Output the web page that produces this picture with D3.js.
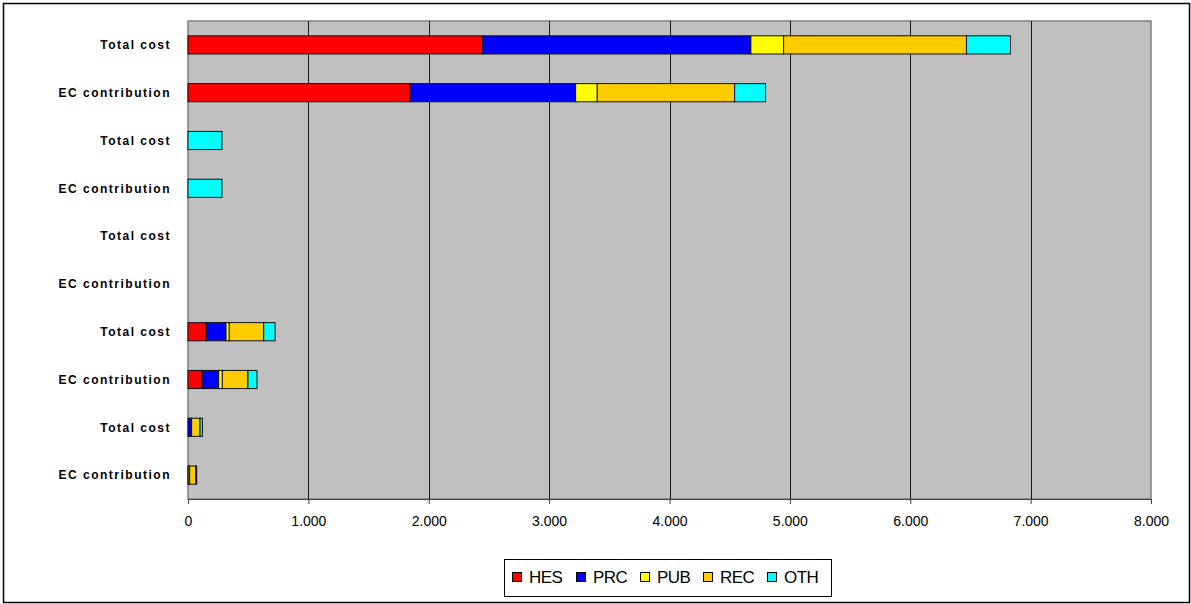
<!DOCTYPE html>
<html>
<head>
<meta charset="utf-8">
<script src="https://cdn.jsdelivr.net/npm/d3@7"></script>
<style>
  body { margin: 0; background: #fff; }
  svg { display: block; font-family: "Liberation Sans", Arial, sans-serif; }
</style>
</head>
<body>
<svg id="svg" width="1191" height="604"></svg>
<script>
// categories, top to bottom
var categories = ["Total cost", "EC contribution", "Total cost", "EC contribution", "Total cost",
                  "EC contribution", "Total cost", "EC contribution", "Total cost", "EC contribution"];

// series (stack order left to right)
var seriesNames = ["HES", "PRC", "PUB", "REC", "OTH"];
var hes = [2448, 1846, 0, 0, 0, 0, 152, 119, 0, 0];
var prc = [2228, 1374, 0, 0, 0, 0, 164, 136, 28, 2];
var pub = [272, 180, 0, 0, 0, 0, 27, 30, 2, 12];
var rec = [1519, 1141, 0, 0, 0, 0, 286, 213, 70, 50];
var oth = [366, 257, 282, 282, 0, 0, 94, 75, 20, 8];

var xTicks = [0, 1000, 2000, 3000, 4000, 5000, 6000, 7000, 8000];

var colors = ["#FF0000", "#0000FF", "#FFFF00", "#FFCC00", "#00FFFF"];

var svg = d3.select("#svg");

// outer chart border
svg.append("rect")
  .attr("x", 3.5).attr("y", 3.5)
  .attr("width", 1186).attr("height", 599)
  .attr("fill", "#fff").attr("stroke", "#000").attr("stroke-width", 1.5);

var plot = { left: 188, right: 1151, top: 21, bottom: 499 };

var x = d3.scaleLinear().domain([0, 8000]).range([plot.left, plot.right]);
var y = d3.scaleBand()
  .domain(d3.range(categories.length))
  .range([plot.top, plot.bottom])
  .paddingInner(0.62).paddingOuter(0.31);

// plot background
svg.append("rect")
  .attr("x", plot.left).attr("y", plot.top)
  .attr("width", plot.right - plot.left).attr("height", plot.bottom - plot.top)
  .attr("fill", "#C0C0C0").attr("stroke", "#808080").attr("stroke-width", 1.5);

// gridlines
svg.append("g").selectAll("line")
  .data(xTicks.slice(1, -1))
  .enter().append("line")
  .attr("x1", function(d) { return Math.round(x(d)) + 0.5; })
  .attr("x2", function(d) { return Math.round(x(d)) + 0.5; })
  .attr("y1", plot.top).attr("y2", plot.bottom)
  .attr("stroke", "#1a1a1a").attr("stroke-width", 1);

// stacked data
var rows = categories.map(function(c, i) {
  return { HES: hes[i], PRC: prc[i], PUB: pub[i], REC: rec[i], OTH: oth[i], idx: i };
});
var stacked = d3.stack().keys(seriesNames)(rows);

var segs = [];
stacked.forEach(function(layer, k) {
  layer.forEach(function(d, i) {
    if (d[1] - d[0] > 0) segs.push({ x0: d[0], x1: d[1], i: i, color: colors[k] });
  });
});

svg.append("g").selectAll("rect")
  .data(segs)
  .enter().append("rect")
  .attr("x", function(d) { return x(d.x0); })
  .attr("width", function(d) { return x(d.x1) - x(d.x0); })
  .attr("y", function(d) { return y(d.i); })
  .attr("height", y.bandwidth())
  .attr("fill", function(d) { return d.color; })
  .attr("stroke", "#111").attr("stroke-width", 1);

// x axis
var fmt = d3.formatLocale({ decimal: ",", thousands: ".", grouping: [3], currency: ["", ""] }).format(",d");
var xAxis = svg.append("g")
  .attr("transform", "translate(0," + plot.bottom + ")")
  .call(d3.axisBottom(x).tickValues(xTicks).tickFormat(fmt).tickSize(5).tickSizeOuter(0).tickPadding(12));
xAxis.select(".domain").attr("stroke", "#444");
xAxis.selectAll(".tick line").attr("stroke", "#444");
xAxis.selectAll("text")
  .attr("font-family", "'Liberation Sans', Arial, sans-serif")
  .attr("font-size", 14).attr("fill", "#000");

// y labels
svg.append("g").selectAll("text")
  .data(categories)
  .enter().append("text")
  .attr("x", 171)
  .attr("y", function(d, i) { return y(i) + y.bandwidth() / 2; })
  .attr("dy", "0.36em")
  .attr("text-anchor", "end")
  .attr("font-size", 12).attr("font-weight", "bold")
  .attr("letter-spacing", "1.5px")
  .attr("fill", "#000")
  .text(function(d) { return d; });

// legend
var legend = svg.append("g");
legend.append("rect")
  .attr("x", 504.5).attr("y", 559.5).attr("width", 327).attr("height", 37)
  .attr("fill", "#fff").attr("stroke", "#000").attr("stroke-width", 1);

var legendX = [512, 576, 640, 703, 767];
seriesNames.forEach(function(name, k) {
  legend.append("rect")
    .attr("x", legendX[k] + 0.5).attr("y", 572.5).attr("width", 9).attr("height", 9)
    .attr("fill", colors[k]).attr("stroke", "#000").attr("stroke-width", 1);
  legend.append("text")
    .attr("x", legendX[k] + 17).attr("y", 577)
    .attr("dy", "0.36em")
    .attr("font-size", 17).attr("letter-spacing", "-0.5px").attr("fill", "#000")
    .text(name);
});
</script>
</body>
</html>
